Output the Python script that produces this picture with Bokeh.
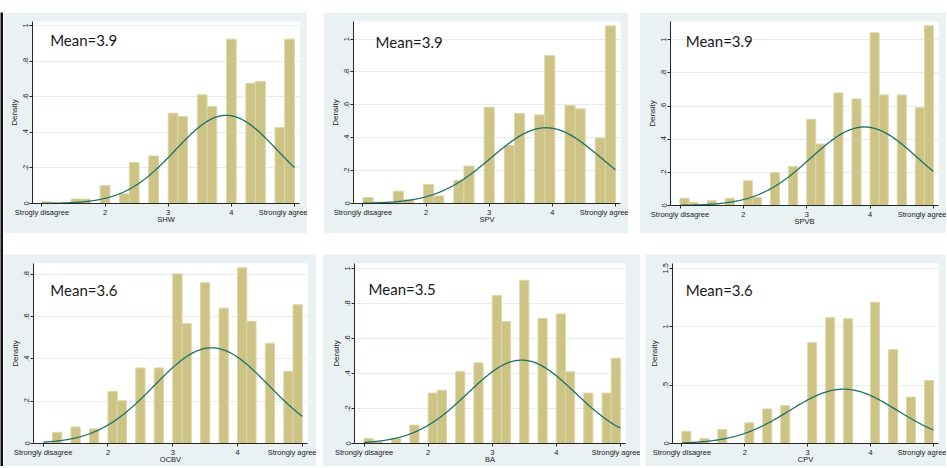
import numpy as np
from bokeh.plotting import figure
from bokeh.layouts import row, column, Spacer
from bokeh.models import FixedTicker, Label, ColumnDataSource, Range1d
from bokeh.embed import file_html
from bokeh.resources import INLINE

# ---------------- data ----------------
x_tick_values = [1, 2, 3, 4, 5]
x_labels_shw = ["Strogly disagree", "2", "3", "4", "Strongly agree"]
x_labels_std = ["Strongly disagree", "2", "3", "4", "Strongly agree"]

variables = ["SHW", "SPV", "SPVB", "OCBV", "BA", "CPV"]
mean_texts = ["Mean=3.9", "Mean=3.9", "Mean=3.9", "Mean=3.6", "Mean=3.5", "Mean=3.6"]

# histogram densities, bins spanning 1..5 (number of bins = list length)
shw_density = [0.01, 0, 0, 0.025, 0.025, 0, 0.10, 0, 0.054, 0.23, 0, 0.267, 0,
               0.507, 0.488, 0, 0.61, 0.544, 0, 0.923, 0, 0.675, 0.686, 0, 0.426, 0.923]
spv_density = [0.036, 0.008, 0, 0.075, 0.024, 0, 0.115, 0.046, 0, 0.141, 0.228, 0,
               0.586, 0, 0.352, 0.547, 0, 0.539, 0.899, 0, 0.596, 0.576, 0, 0.398, 1.08]
spvb_density = [0.044, 0.018, 0, 0.028, 0, 0.044, 0, 0.149, 0.05, 0, 0.199, 0, 0.235, 0,
                0.52, 0.371, 0, 0.679, 0, 0.643, 0, 1.042, 0.667, 0, 0.667, 0, 0.59, 1.084]
ocbv_density = [0, 0.053, 0, 0.078, 0, 0.069, 0, 0.246, 0.202, 0, 0.357, 0, 0.357, 0,
                0.801, 0.566, 0, 0.759, 0, 0.639, 0, 0.830, 0.577, 0, 0.473, 0, 0.340, 0.655]
ba_density = [0.028, 0.01, 0, 0.028, 0, 0.105, 0, 0.288, 0.304, 0, 0.41, 0, 0.461, 0,
              0.845, 0.696, 0, 0.932, 0, 0.714, 0, 0.74, 0.41, 0, 0.288, 0, 0.288, 0.487]
cpv_density = [0.104, 0, 0.042, 0, 0.121, 0, 0, 0.177, 0, 0.296, 0, 0.324, 0, 0,
               0.862, 0, 1.076, 0, 1.068, 0, 0, 1.208, 0, 0.803, 0, 0.397, 0, 0.538]

normal_means = [3.92, 3.90, 3.91, 3.60, 3.46, 3.57]
normal_sds = [0.806, 0.866, 0.842, 0.883, 0.838, 0.858]

y_ticks_a = [0, 0.2, 0.4, 0.6, 0.8, 1]
y_labels_a = ["0", ".2", ".4", ".6", ".8", "1"]
y_ticks_b = [0, 0.2, 0.4, 0.6, 0.8]
y_labels_b = ["0", ".2", ".4", ".6", ".8"]
y_ticks_c = [0, 0.5, 1, 1.5]
y_labels_c = ["0", ".5", "1", "1.5"]

# ---------------- style ----------------
BG = "#e9f1f3"
GRID = "#e4edf0"
BAR_FILL = "#ccc385"
BAR_LINE = "#dcd6a8"
CURVE = "#1f7066"
AXIS = "#262626"
TEXT = "#1a1a1a"


def make_panel(name, dens, mu, sd, yticks, ylabels, xlabels, ymax, mean_text,
               mean_xy, frame_w, frame_h, borders):
    left_b, right_b, top_b, bottom_b = borders
    p = figure(frame_width=frame_w, frame_height=frame_h, output_backend="svg",
               toolbar_location=None,
               x_range=Range1d(0.85, 5.08), y_range=Range1d(0, ymax),
               min_border_left=left_b, min_border_right=right_b,
               min_border_top=top_b, min_border_bottom=bottom_b)
    p.title.visible = False
    p.border_fill_color = BG
    p.background_fill_color = "white"
    p.outline_line_color = None

    n = len(dens)
    edges = np.linspace(1, 5, n + 1)
    d = np.array(dens, dtype=float)
    keep = d > 0
    src = ColumnDataSource(dict(left=edges[:-1][keep], right=edges[1:][keep], top=d[keep]))
    p.quad(left="left", right="right", top="top", bottom=0, source=src,
           fill_color=BAR_FILL, line_color=BAR_LINE, line_width=1)

    xs = np.linspace(1, 5, 300)
    ys = np.exp(-0.5 * ((xs - mu) / sd) ** 2) / (sd * np.sqrt(2 * np.pi))
    p.line(xs, ys, line_color=CURVE, line_width=1.3)

    p.xgrid.visible = False
    p.ygrid.ticker = FixedTicker(ticks=yticks)
    p.ygrid.grid_line_color = GRID

    for ax in (p.xaxis[0], p.yaxis[0]):
        ax.axis_line_color = AXIS
        ax.major_tick_line_color = AXIS
        ax.major_tick_out = 3
        ax.major_tick_in = 0
        ax.minor_tick_line_color = None
        ax.major_label_text_font = "Liberation Sans"
        ax.major_label_text_font_size = "7.5px"
        ax.major_label_text_color = TEXT
        ax.axis_label_text_font = "Liberation Sans"
        ax.axis_label_text_font_style = "normal"
        ax.axis_label_text_color = TEXT
        ax.major_label_standoff = 1

    p.xaxis.ticker = FixedTicker(ticks=x_tick_values)
    p.xaxis.major_label_overrides = {v: l for v, l in zip(x_tick_values, xlabels)}
    p.xaxis.axis_label = name
    p.xaxis.axis_label_text_font_size = "7.5px"
    p.xaxis.axis_label_standoff = -5

    p.yaxis.ticker = FixedTicker(ticks=yticks)
    p.yaxis.major_label_overrides = {v: l for v, l in zip(yticks, ylabels)}
    p.yaxis.major_label_orientation = "vertical"
    p.yaxis.axis_label = "Density"
    p.yaxis.axis_label_text_font_size = "8px"
    p.yaxis.axis_label_standoff = 2

    p.add_layout(Label(x=mean_xy[0], y=mean_xy[1], text=mean_text, text_font="Lato",
                       text_font_size="15px", text_color=TEXT, text_baseline="middle",
                       text_align="left"))
    return p


# row 1: total height 221
p1 = make_panel(variables[0], shw_density, normal_means[0], normal_sds[0], y_ticks_a, y_labels_a,
                x_labels_shw, 1.022, mean_texts[0], (1.13, 0.916), 267, 182, (29, 8, 9, 30))
p2 = make_panel(variables[1], spv_density, normal_means[1], normal_sds[1], y_ticks_a, y_labels_a,
                x_labels_std, 1.107, mean_texts[1], (1.20, 0.985), 267, 182, (30, 8, 9, 30))
p3 = make_panel(variables[2], spvb_density, normal_means[2], normal_sds[2], y_ticks_a, y_labels_a,
                x_labels_std, 1.11, mean_texts[2], (1.09, 0.99), 268, 184, (31, 8, 9, 28))
# row 2: total height 212
p4 = make_panel(variables[3], ocbv_density, normal_means[3], normal_sds[3], y_ticks_b, y_labels_b,
                x_labels_std, 0.85, mean_texts[3], (1.11, 0.726), 274, 180, (30, 9, 9, 23))
p5 = make_panel(variables[4], ba_density, normal_means[4], normal_sds[4], y_ticks_a, y_labels_a,
                x_labels_std, 1.028, mean_texts[4], (1.07, 0.88), 271, 180, (32, 15, 9, 23))
p6 = make_panel(variables[5], cpv_density, normal_means[5], normal_sds[5], y_ticks_c, y_labels_c,
                x_labels_std, 1.54, mean_texts[5], (1.06, 1.316), 266, 180, (27, 8, 9, 23))

# thin dark edge at the far left of the composite image
strip = figure(width=3, height=454, output_backend="svg", toolbar_location=None, min_border=0)
strip.title.visible = False
strip.axis.visible = False
strip.grid.visible = False
strip.outline_line_color = None
strip.border_fill_color = "#111111"
strip.background_fill_color = "#111111"

panels = column(
    row(p1, Spacer(width=16), p2, Spacer(width=11), p3),
    Spacer(height=21),
    row(p4, Spacer(width=6), p5, Spacer(width=5), p6),
)
layout = column(Spacer(height=12), row(strip, panels))

open("out.html", "w").write(file_html(layout, INLINE))
